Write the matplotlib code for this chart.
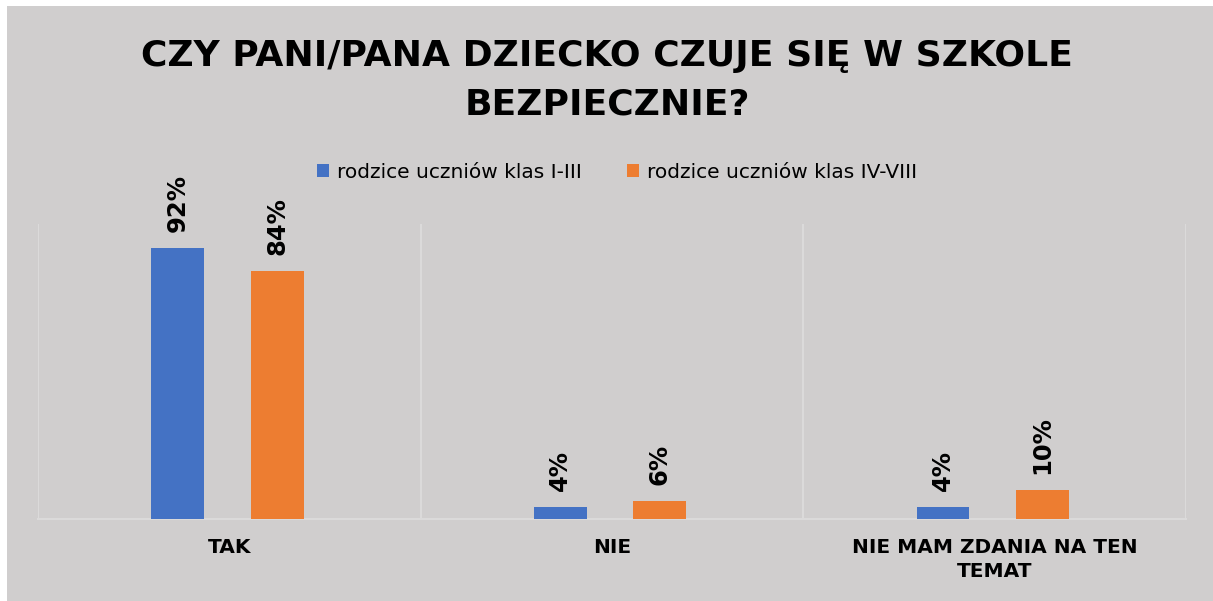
import numpy as np
import matplotlib.pyplot as plt
from matplotlib.patches import Rectangle

categories = ['TAK', 'NIE', 'NIE MAM ZDANIA NA TEN\nTEMAT']
series_names = ['rodzice uczniów klas I-III', 'rodzice uczniów klas IV-VIII']
values_1_3 = [92, 4, 4]
values_4_8 = [84, 6, 10]

title = 'CZY PANI/PANA DZIECKO CZUJE SIĘ W SZKOLE\nBEZPIECZNIE?'

bg = '#D0CECE'
grid_col = '#DBDADA'
blue = '#4472C4'
orange = '#ED7D31'

fig = plt.figure(figsize=(12.13, 6.01), dpi=100, facecolor='white')
# grey chart area (white strip on top and left like the screenshot)
fig.patches.append(Rectangle((7 / 1213, 0), 1 - 7 / 1213, 1 - 6 / 601,
                             transform=fig.transFigure, facecolor=bg,
                             edgecolor='none', zorder=-10))

ax = fig.add_axes([38 / 1213, 82 / 601, 1148 / 1213, 295 / 601])
ax.set_facecolor('none')

x = np.arange(len(categories))
w = 0.138
b1 = ax.bar(x - 0.135, values_1_3, width=w, color=blue, label=series_names[0], zorder=3)
b2 = ax.bar(x + 0.125, values_4_8, width=w, color=orange, label=series_names[1], zorder=3)

for bars, vals in [(b1, values_1_3), (b2, values_4_8)]:
    for bar, v in zip(bars, vals):
        ax.annotate(f'{v}%', (bar.get_x() + bar.get_width() / 2, bar.get_height()),
                    xytext=(0, 11.5), textcoords='offset points',
                    rotation=90, ha='center', va='bottom',
                    fontsize=17.5, fontweight='bold', color='black')

ax.set_xlim(-0.5, len(categories) - 0.5)
ax.set_ylim(0, 100)
ax.set_yticks([])
ax.set_xticks(x)
ax.set_xticklabels(categories, fontsize=14.5, fontweight='bold', linespacing=1.3)
ax.tick_params(axis='x', length=0, pad=14)
ax.set_xticks(np.arange(len(categories) + 1) - 0.5, minor=True)
ax.tick_params(axis='x', which='minor', length=0)
ax.grid(True, which='minor', axis='x', color=grid_col, linewidth=1.5, zorder=1)

for s in ['top', 'left', 'right']:
    ax.spines[s].set_visible(False)
ax.spines['bottom'].set_color(grid_col)
ax.spines['bottom'].set_linewidth(1.5)

fig.text(607 / 1213, 1 - 80 / 601, title, ha='center', va='center',
         fontsize=26, fontweight='bold', linespacing=1.55)

fig.legend(handles=[b1, b2], loc='center', bbox_to_anchor=(617 / 1213, 1 - 172 / 601),
           ncol=2, frameon=False, fontsize=14.5, handlelength=0.6, handleheight=0.6,
           handletextpad=0.4, columnspacing=2.2)

fig.savefig('out.png', dpi=100, facecolor=fig.get_facecolor())
